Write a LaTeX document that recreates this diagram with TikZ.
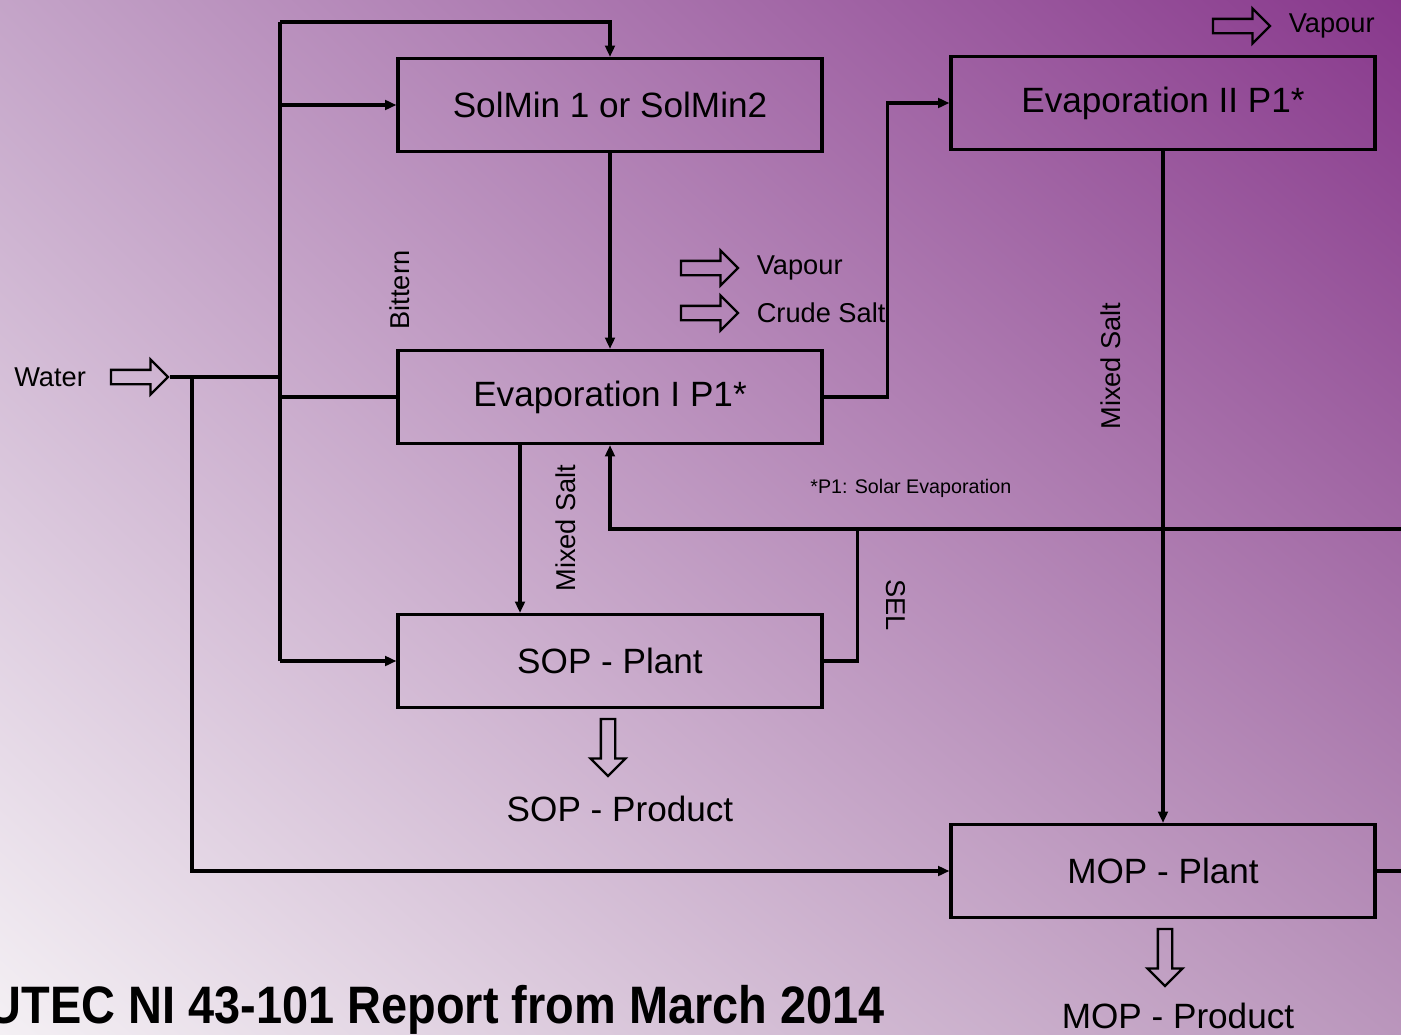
\documentclass[tikz,border=0pt]{standalone}
\usepackage{fontspec}
\setmainfont{Liberation Sans}
\usetikzlibrary{arrows.meta, positioning, calc, shapes.arrows, shadings}

\definecolor{bgpale}{RGB}{244,240,244}
\definecolor{bgmidA}{RGB}{196,164,200}
\definecolor{bgmidB}{RGB}{186,150,188}
\definecolor{bgdeep}{RGB}{136,56,140}

\begin{document}
\begin{tikzpicture}[
    x=0.02cm, y=-0.02cm,
    >={Triangle[length=6.5pt, width=5.5pt]},
    box/.style={
        draw,
        line width=1.8pt,
        minimum width=8.48cm,
        minimum height=1.86cm,
        align=center,
        font=\fontsize{20}{24}\selectfont
    },
    flow/.style={line width=1.9pt, ->},
    pipe/.style={line width=1.9pt},
    outarr/.style={
        draw,
        line width=1.3pt,
        single arrow,
        minimum height=1.14cm,
        inner xsep=0pt,
        inner ysep=0.12cm,
        single arrow head extend=0.21cm,
        single arrow tip angle=90
    },
    lab/.style={font=\fontsize{15.5}{18}\selectfont, inner sep=1pt},
    prod/.style={font=\fontsize{20}{24}\selectfont, inner sep=1pt}
]

% ---------------- Background ----------------
\clip (0,0) rectangle (1401,1035);
\shade[upper left=bgmidA, upper right=bgdeep, lower left=bgpale, lower right=bgmidB]
    (0,0) rectangle (1401,1035);

% ---------------- Nodes ----------------
\node[box] (solmin) at (610, 105) {SolMin 1 or SolMin2};
\node[box] (evap2)  at (1163,103) {Evaporation II P1*};
\node[box] (evap1)  at (610, 397) {\raisebox{-3pt}{Evaporation I P1*}};
\node[box] (sop)    at (610, 661) {SOP - Plant};
\node[box] (mop)    at (1163,871) {MOP - Plant};

\node[lab, anchor=east] (water) at (88,377) {Water};
\node[outarr] (waterarr) at (136,377) {};

\node[outarr] (vaparr)   at (706,268) {};
\node[lab, right=0.3cm of vaparr] (vapour) {Vapour};
\node[outarr] (saltarr)  at (706,313) {};
\node[lab, right=0.3cm of saltarr] (crude) {Crude Salt};
\node[outarr] (vaparr2)  at (1238,26) {};
\node[lab, right=0.3cm of vaparr2] (vapour2) {Vapour};

\node[outarr, rotate=-90] (soparr) at (608,744) {};
\node[prod] (sopprod) at (620,809) {SOP - Product};
\node[outarr, rotate=-90] (moparr) at (1165,954) {};
\node[prod] (mopprod) at (1178,1016) {MOP - Product};

\node[lab, rotate=90]  (bittern) at (400,290) {Bittern};
\node[lab, rotate=90]  (mix1)    at (566,528) {Mixed Salt};
\node[lab, rotate=90]  (mix2)    at (1111,366) {Mixed Salt};
\node[lab, rotate=-90] (sel)     at (896,605) {SEL};
\node[font=\fontsize{11.2}{13}\selectfont, anchor=west, inner sep=0pt] (note) at (810,488)
    {*P1: Solar Evaporation};

\node[font=\bfseries\fontsize{30}{33}\selectfont, xscale=0.89, anchor=base east, inner sep=0pt]
    (report) at (885,1023) {UTEC NI 43-101 Report from March 2014};

\coordinate (split)   at (192,377);
\coordinate (ttop)    at (280,22);
\coordinate (tmid)    at (280,377);
\coordinate (tbot)    at (280,661);
\coordinate (recyc)   at (610,529);
\coordinate (selr)    at (856,529);

% ---------------- Water feed ----------------
\draw[pipe] (waterarr.tip) -- (tmid);
\draw[pipe] (ttop) -- (tbot);
\draw[flow] (ttop) -| (solmin.north);
\draw[flow] (solmin.west -| ttop) -- (solmin.west);
\draw[pipe] (evap1.west -| ttop) -- (evap1.west);
\draw[flow] (tbot) -- (sop.west);
\draw[flow] (split) |- (mop.west);

% ---------------- Process flow ----------------
\draw[flow] (solmin.south) -- (evap1.north);
\draw[flow] (evap1.east) -- ++(64,0) |- (evap2.west);
\draw[flow] ([xshift=-1.8cm]evap1.south) -- ([xshift=-1.8cm]sop.north);
\draw[flow] (evap2.south) -- (mop.north);

% ---------------- Recycle ----------------
\draw[flow] (sop.east) -- ++(34,0) |- (recyc) -- (evap1.south);
\draw[pipe] (mop.east) -- ++(60,0) |- (selr);

\end{tikzpicture}
\end{document}
